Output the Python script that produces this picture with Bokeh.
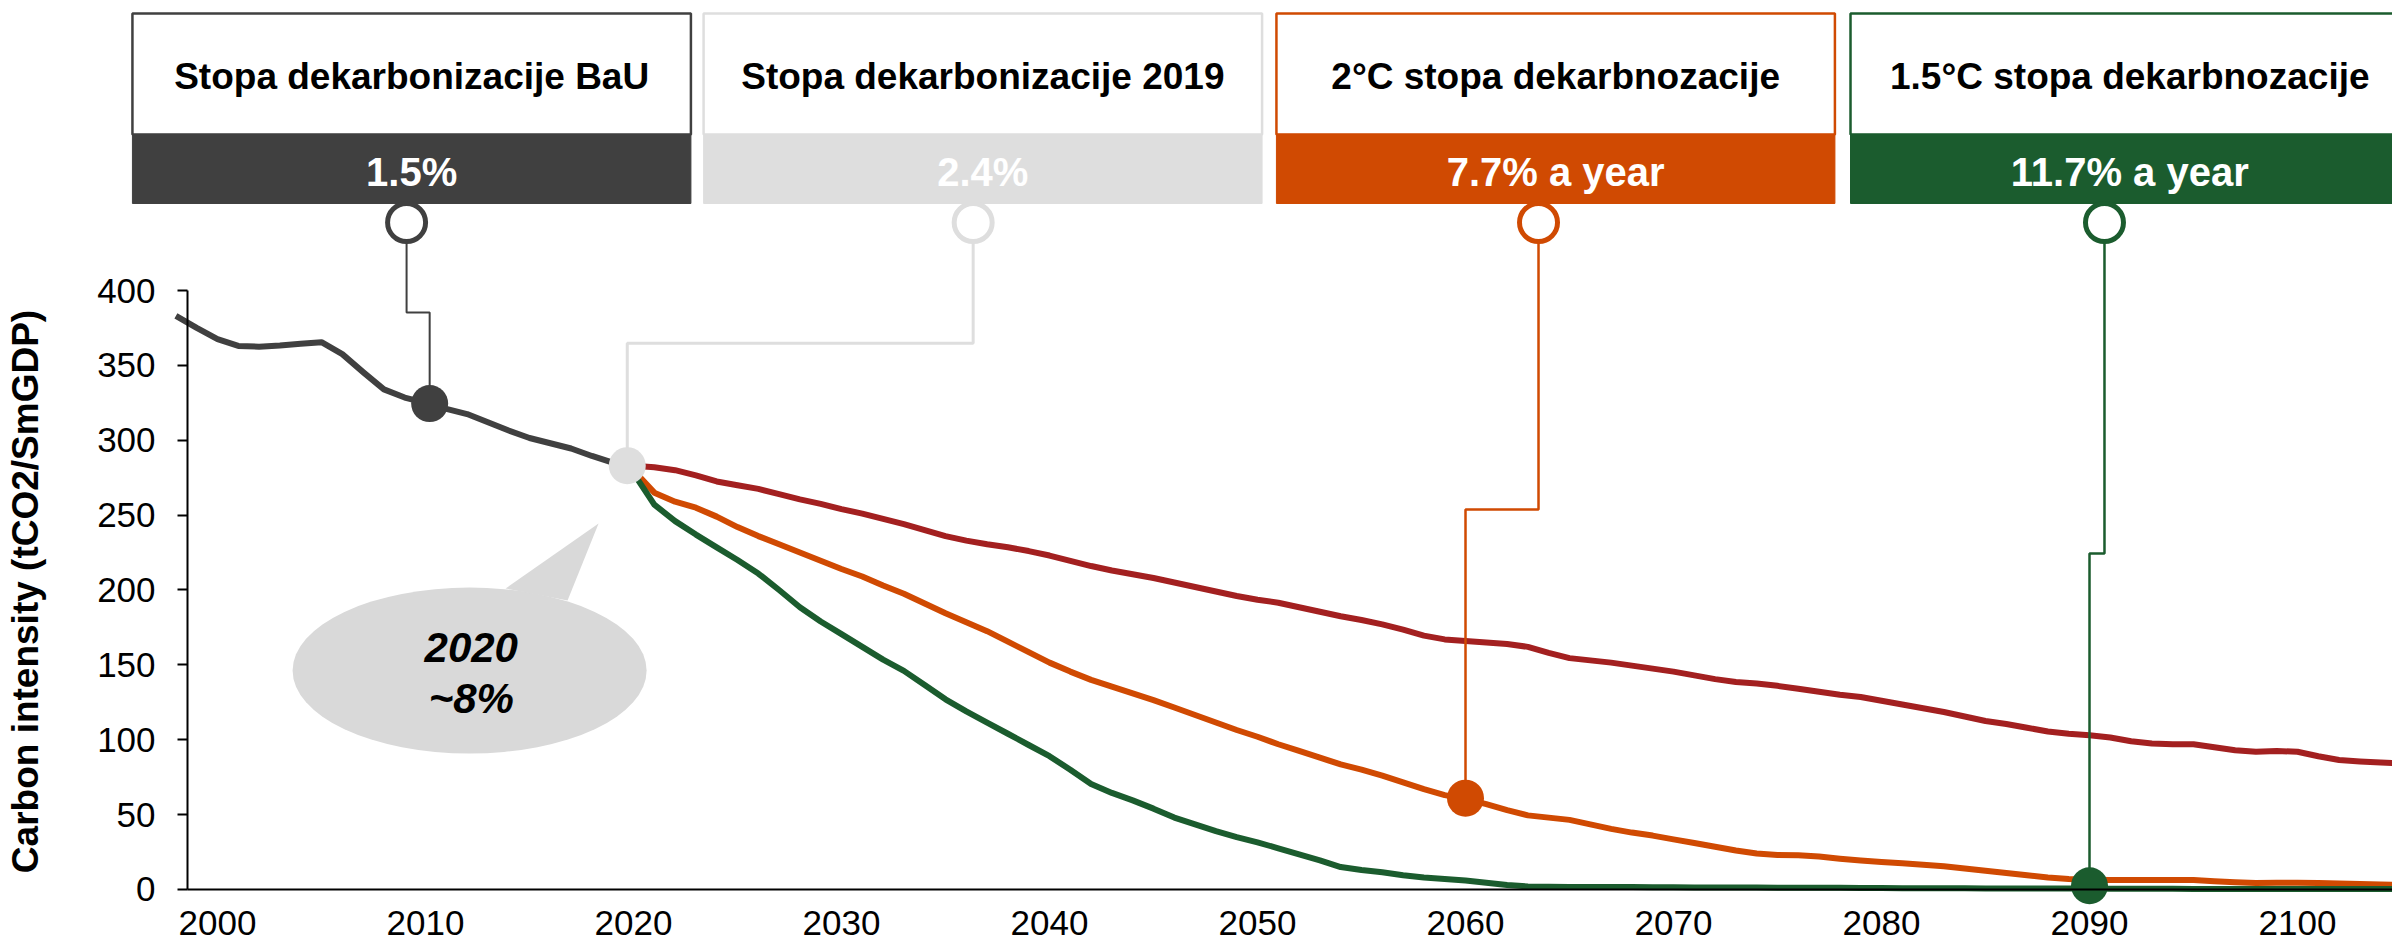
import math
from bokeh.plotting import figure
from bokeh.models import Range1d, FixedTicker
from bokeh.core.properties import value
from bokeh.embed import file_html
from bokeh.resources import INLINE

# ---------------- data ----------------
hist_start = 1998
hist_vals = [383, 375, 367.5, 363, 362.5, 363.3, 364.5, 365.5, 357.5, 345.5,
             334, 328.5, 325, 321, 317.5, 312, 306.5, 301.5, 298, 294.5,
             289.5, 285, 282]

proj_start = 2020
red_vals = [283, 282, 280, 276.5, 272.5, 270, 267.5, 264, 260.5, 257.5,
            254, 251, 247.5, 244, 240, 236, 233, 230.5, 228.5, 226,
            223, 219.5, 216, 213, 210.5, 208, 205, 202, 199, 196,
            193.5, 191.5, 188.5, 185.5, 182.5, 180, 177, 173.5, 169.5, 167,
            166, 165, 164, 162, 158, 154.5, 153, 151.5, 149.5, 147.5,
            145.5, 143, 140.5, 138.5, 137.5, 136, 134, 132, 130, 128.5,
            126, 123.5, 121, 118.5, 115.5, 112.5, 110.5, 108, 105.5, 104,
            103, 101.5, 99, 97.5, 97, 97, 95, 93, 92, 92.5,
            92, 89, 86.5, 85.5, 84.8, 84.3]
orange_vals = [280, 265, 259, 255, 249, 242, 236, 230.5, 225, 219.5,
               214, 209, 203, 197.5, 191, 184.5, 178.5, 172.5, 165.5, 158.5,
               151.5, 145.5, 140, 135.5, 131, 126.5, 121.5, 116.5, 111.5, 106.5,
               102, 97, 92.5, 88, 83.5, 80, 76, 71.5, 67, 63,
               60.5, 57, 53, 49.5, 48, 46.5, 43.5, 40.5, 38, 36,
               33.5, 31, 28.5, 26, 24, 23, 22.8, 22, 20.5, 19.3,
               18.3, 17.5, 16.5, 15.5, 14, 12.5, 11, 9.5, 8, 7,
               6.5, 6.3, 6.3, 6.4, 6.4, 6.3, 5.5, 4.8, 4.4, 4.5,
               4.5, 4.3, 4, 3.6, 3.3, 3.1]
green_vals = [278, 257, 246, 237, 228.5, 220, 211, 200, 188.5, 179,
              170.5, 162, 153.5, 146, 136.5, 127, 119, 111.5, 104, 96.5,
              89, 80, 70.5, 64.5, 59.5, 54, 48, 43.5, 39, 35,
              31.5, 27.5, 23.5, 19.5, 15, 13, 11.5, 9.5, 8, 7,
              6, 4.5, 3, 2, 1.8, 1.7, 1.7, 1.6, 1.6, 1.5,
              1.5, 1.4, 1.4, 1.3, 1.3, 1.2, 1.2, 1.1, 1.1, 1.0,
              1.0, 0.9, 0.9, 0.8, 0.8, 0.7, 0.7, 0.7, 0.6, 0.6,
              0.6, 0.5, 0.5, 0.5, 0.5, 0.4, 0.4, 0.4, 0.4, 0.4,
              0.3, 0.3, 0.3, 0.3, 0.3, 0.3]

box_titles = ["Stopa dekarbonizacije BaU", "Stopa dekarbonizacije 2019",
              "2°C stopa dekarbnozacije", "1.5°C stopa dekarbnozacije"]
box_values = ["1.5%", "2.4%", "7.7% a year", "11.7% a year"]
callout_years = [2010.2, 2019.7, 2060.0, 2090.0]
callout_vals = [324.5, 283.0, 61.0, 2.5]

bubble_text = ["2020", "~8%"]
x_ticks = list(range(2000, 2101, 10))
y_ticks = list(range(0, 401, 50))
y_title = "Carbon intensity (tCO2/SmGDP)"

# ---------------- style / layout ----------------
C_DARK = "#404040"
C_LIGHT = "#DEDEDE"
C_ORANGE = "#D04A02"
C_GREEN = "#1B5C2E"
C_RED = "#A32020"
box_colors = [C_DARK, C_LIGHT, C_ORANGE, C_GREEN]
FONT = value("Liberation Sans")

W, H = 2392, 945
X0, X1 = 1989.567, 2104.567
Y0, Y1 = -37.40, 593.66
AXIS_X = 1998.56

BOX_LEFT = [1995.91, 2023.37, 2050.91, 2078.51]
BOX_W = 26.85
BOX_TOP, BOX_MID, BOX_BOT = 585.0, 504.2, 458.1
TITLE_Y, VALUE_Y = 543.2, 479.0
RING_X = [2009.09, 2036.33, 2063.51, 2090.72]
RING_Y = 445.4
STEP_Y = [385.3, 364.8, 253.8, 224.4]
CONN_W = [2, 3, 2.5, 2.5]

p = figure(width=W, height=H, x_range=Range1d(X0, X1), y_range=Range1d(Y0, Y1),
           output_backend="svg", toolbar_location=None, min_border=0)
p.outline_line_color = None
p.xgrid.visible = False
p.ygrid.visible = False
p.background_fill_color = "white"

# axes
for ax in (p.xaxis[0], p.yaxis[0]):
    ax.axis_line_color = "black"
    ax.axis_line_width = 2
    ax.major_tick_line_color = "black"
    ax.major_tick_line_width = 2
    ax.minor_tick_line_color = None
    ax.major_label_text_font = "Liberation Sans"
    ax.major_label_text_font_size = "35px"
    ax.major_label_text_color = "black"
p.xaxis.fixed_location = 0
p.yaxis.fixed_location = AXIS_X
p.xaxis.bounds = (AXIS_X, X1)
p.yaxis.bounds = (0, 400)
p.xaxis.ticker = FixedTicker(ticks=x_ticks)
p.yaxis.ticker = FixedTicker(ticks=y_ticks)
p.xaxis.major_tick_out = 0
p.xaxis.major_tick_in = 0
p.xaxis.major_label_standoff = 22
p.yaxis.major_tick_out = 10
p.yaxis.major_tick_in = 0
p.yaxis.major_label_standoff = 22

# y title
p.text(x=[1990.77], y=[199.0], text=[y_title], angle=math.pi / 2,
       text_font=FONT, text_font_style="bold", text_font_size="37px",
       text_align="center", text_baseline="middle", text_color="black")

# speech bubble
p.ellipse(x=[2012.12], y=[146.2], width=17.02, height=110.85,
          fill_color="#D9D9D9", line_color=None)
p.patch([2013.85, 2018.32, 2016.83], [201.0, 244.4, 193.0],
        fill_color="#D9D9D9", line_color=None)
p.text(x=[2012.2, 2012.2], y=[161.6, 127.5], text=bubble_text,
       text_font=FONT, text_font_style="bold italic", text_font_size="42px",
       text_align="center", text_baseline="middle", text_color="black")

# series
def yrs(start, vals):
    return list(range(start, start + len(vals)))

p.line(yrs(hist_start, hist_vals), hist_vals, line_width=6, color=C_DARK, line_join="round")
p.line(yrs(proj_start, red_vals), red_vals, line_width=6, color=C_RED, line_join="round")
p.line(yrs(proj_start, orange_vals), orange_vals, line_width=6, color=C_ORANGE, line_join="round")
p.line(yrs(proj_start, green_vals), green_vals, line_width=6, color=C_GREEN, line_join="round")

# connectors
for i in range(4):
    p.line([RING_X[i], RING_X[i], callout_years[i], callout_years[i]],
           [RING_Y, STEP_Y[i], STEP_Y[i], callout_vals[i]],
           line_width=CONN_W[i], color=box_colors[i])

# callout dots
p.scatter(callout_years, callout_vals, size=37, fill_color=box_colors, line_color=None)

# boxes
lefts = BOX_LEFT
rights = [l + BOX_W for l in BOX_LEFT]
centers = [l + BOX_W / 2 for l in BOX_LEFT]
p.quad(left=lefts, right=rights, top=BOX_TOP, bottom=BOX_MID,
       fill_color="white", line_color=box_colors, line_width=2.5)
p.quad(left=lefts, right=rights, top=BOX_MID, bottom=BOX_BOT,
       fill_color=box_colors, line_color=box_colors, line_width=1)

# rings
p.scatter(RING_X, [RING_Y] * 4, size=38, fill_color="white",
          line_color=box_colors, line_width=5)

p.text(x=centers, y=[TITLE_Y] * 4, text=box_titles, text_font=FONT,
       text_font_style="bold", text_font_size="37px", text_align="center",
       text_baseline="middle", text_color="black")
p.text(x=centers, y=[VALUE_Y] * 4, text=box_values, text_font=FONT,
       text_font_style="bold", text_font_size="40px", text_align="center",
       text_baseline="middle", text_color="white")

open("out.html", "w").write(file_html(p, INLINE))
